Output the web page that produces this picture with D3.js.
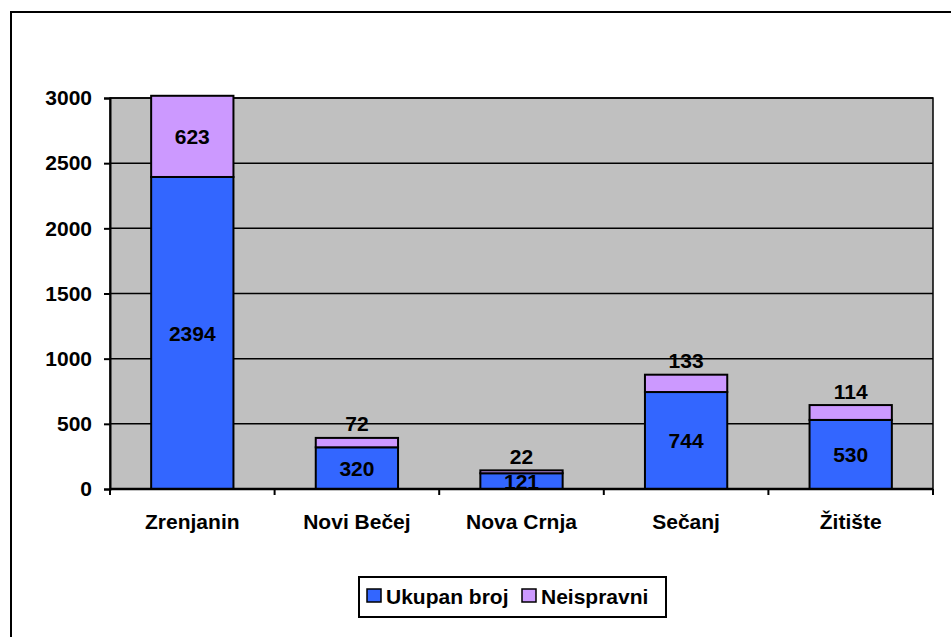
<!DOCTYPE html>
<html><head><meta charset="utf-8">
<script src="https://cdn.jsdelivr.net/npm/d3@7"></script>
<style>body{margin:0;background:#fff}svg{display:block}text{font-family:"Liberation Sans",Arial,sans-serif;font-weight:bold}</style>
</head><body>
<svg id="c" width="951" height="637"></svg>
<script>
const categories = ["Zrenjanin","Novi Bečej","Nova Crnja","Sečanj","Žitište"];
const ukupanBroj = [2394, 320, 121, 744, 530];
const neispravni = [623, 72, 22, 133, 114];
const seriesNames = ["Ukupan broj","Neispravni"];
const seriesColors = ["#3366FF","#CC99FF"];
const yTicks = [0,500,1000,1500,2000,2500,3000];

const FS = 21;
const svg = d3.select("#c");
svg.append("rect").attr("x",11).attr("y",12).attr("width",1000).attr("height",700)
  .attr("fill","#fff").attr("stroke","#000").attr("stroke-width",2);

const L=110, R=933, T=98, B=489;
const x = d3.scaleBand().domain(categories).range([L,R]).paddingInner(0.5).paddingOuter(0.25);
const y = d3.scaleLinear().domain([0,3000]).range([B,T]);

svg.append("rect").attr("x",L).attr("y",T).attr("width",R-L).attr("height",B-T)
  .attr("fill","#C0C0C0").attr("stroke","#000").attr("stroke-width",1.5);

svg.append("g").selectAll("line").data(yTicks.filter(d=>d>0)).join("line")
  .attr("x1",L).attr("x2",R).attr("y1",d=>y(d)).attr("y2",d=>y(d))
  .attr("stroke","#000").attr("stroke-width",1.5);

const rows = categories.map((c,i)=>({cat:c, a:ukupanBroj[i], b:neispravni[i]}));
const stack = d3.stack().keys(["a","b"])(rows);

const g = svg.append("g");
stack.forEach((s,si)=>{
  g.append("g").selectAll("rect").data(s).join("rect")
    .attr("x",d=>x(d.data.cat)).attr("width",x.bandwidth())
    .attr("y",d=>y(d[1])).attr("height",d=>y(d[0])-y(d[1]))
    .attr("fill",seriesColors[si]).attr("stroke","#000").attr("stroke-width",2);
});

stack.forEach((s,si)=>{
  g.append("g").selectAll("text").data(s).join("text")
    .attr("x",d=>x(d.data.cat)+x.bandwidth()/2)
    .attr("y",d=>{
      const h=y(d[0])-y(d[1]);
      if(si===1 && h<30) return y(d[1])-14;
      return (y(d[0])+y(d[1]))/2;
    })
    .attr("dy","0.36em").attr("text-anchor","middle").attr("font-size",FS).attr("fill","#000")
    .text(d=>d[1]-d[0]);
});

const ya = d3.axisLeft(y).tickValues(yTicks).tickFormat(d3.format("d")).tickSize(6).tickPadding(12);
const yg = svg.append("g").attr("transform",`translate(${L},0)`).call(ya);
yg.select(".domain").attr("stroke","#000").attr("stroke-width",2);
yg.selectAll(".tick line").attr("stroke","#000").attr("stroke-width",2);
yg.selectAll(".tick text").attr("font-size",FS).attr("fill","#000")
  .style("font-family","Liberation Sans, Arial, sans-serif").style("font-weight","bold");

const xa = svg.append("g").attr("transform",`translate(0,${B})`);
xa.append("line").attr("x1",L).attr("x2",R).attr("stroke","#000").attr("stroke-width",2.5);
const bounds = d3.range(categories.length+1).map(i=>L+i*(R-L)/categories.length);
xa.selectAll("line.t").data(bounds).join("line").attr("class","t")
  .attr("x1",d=>d).attr("x2",d=>d).attr("y1",0).attr("y2",6).attr("stroke","#000").attr("stroke-width",2);
xa.selectAll("text").data(categories).join("text")
  .attr("x",d=>x(d)+x.bandwidth()/2).attr("y",40).attr("text-anchor","middle")
  .attr("font-size",FS).attr("fill","#000").text(d=>d);

const lg = svg.append("g");
lg.append("rect").attr("x",359).attr("y",577).attr("width",307).attr("height",40)
  .attr("fill","#fff").attr("stroke","#000").attr("stroke-width",2);
const items=[{n:seriesNames[0],c:seriesColors[0],x:367},{n:seriesNames[1],c:seriesColors[1],x:522}];
items.forEach(it=>{
  lg.append("rect").attr("x",it.x).attr("y",589).attr("width",14).attr("height",13)
    .attr("fill",it.c).attr("stroke","#000").attr("stroke-width",1.5);
  lg.append("text").attr("x",it.x+19).attr("y",596).attr("dy","0.36em").attr("font-size",FS)
    .attr("fill","#000").text(it.n);
});
</script>
</body></html>
